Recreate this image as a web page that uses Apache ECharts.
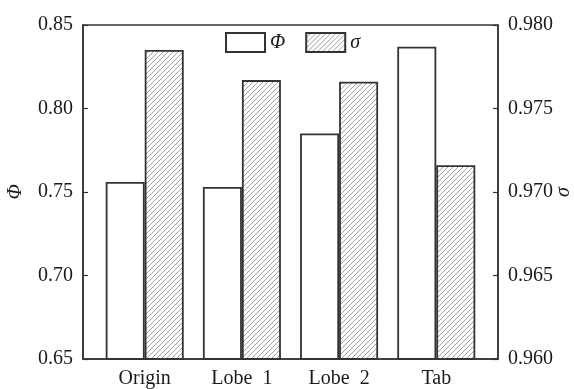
<!DOCTYPE html>
<html><head><meta charset="utf-8">
<script src="https://cdn.jsdelivr.net/npm/echarts@6/dist/echarts.min.js"></script>
<style>html,body{margin:0;padding:0;background:#fff}#c{width:574px;height:389px}</style>
</head><body><div id="c"></div>
<script>
const categories = ['Origin', 'Lobe  1', 'Lobe  2', 'Tab'];
const phiValues = [0.756, 0.753, 0.785, 0.837];
const sigmaValues = [0.9785, 0.9767, 0.9766, 0.9716];
const phiAxis = { min: 0.65, max: 0.85, interval: 0.05, digits: 2 };
const sigmaAxis = { min: 0.960, max: 0.980, interval: 0.005, digits: 3 };
const seriesNames = ['Φ', 'σ'];

function hatch() {
  const s = 5;
  const c = document.createElement('canvas');
  c.width = s; c.height = s;
  const g = c.getContext('2d');
  g.fillStyle = '#fff'; g.fillRect(0, 0, s, s);
  g.strokeStyle = '#a0a0a0'; g.lineWidth = 1;
  g.beginPath();
  g.moveTo(-1, s + 1); g.lineTo(s + 1, -1);
  g.moveTo(-1, 1); g.lineTo(1, -1);
  g.moveTo(s - 1, s + 1); g.lineTo(s + 1, s - 1);
  g.stroke();
  return c;
}

const font = 'Liberation Serif, Times New Roman, serif';
const txt = '#1a1a1a';
const lineCol = '#333';

function yAx(a, name, pos) {
  return {
    type: 'value', position: pos, min: a.min, max: a.max, interval: a.interval,
    axisLine: { show: true, onZero: false, lineStyle: { color: lineCol, width: 1.5 } },
    axisTick: { show: true, inside: true, length: 5, lineStyle: { color: lineCol, width: 1.2 } },
    axisLabel: { fontFamily: font, fontSize: 20, color: txt, margin: 10, formatter: v => v.toFixed(a.digits) },
    splitLine: { show: false },
    name: name, nameLocation: 'middle', nameRotate: 90, nameMoveOverlap: false,
    nameGap: pos === 'left' ? 57 : 56,
    nameTextStyle: { fontFamily: font, fontStyle: 'italic', fontSize: 20, color: txt }
  };
}

const chart = echarts.init(document.getElementById('c'), null, { renderer: 'canvas' });
chart.setOption({
  animation: false,
  backgroundColor: '#fff',
  grid: { left: 83, right: 76, top: 25, bottom: 30, containLabel: false, outerBoundsMode: 'none',
    show: true, borderColor: lineCol, borderWidth: 1.5, backgroundColor: 'transparent' },
  legend: {
    left: 225, top: 32, padding: 0, itemWidth: 39, itemHeight: 19, itemGap: 20, icon: 'rect',
    textStyle: { fontFamily: font, fontStyle: 'italic', fontSize: 20, color: txt },
    data: seriesNames
  },
  xAxis: {
    type: 'value', min: -0.635, max: 3.635,
    axisLine: { show: true, onZero: false, lineStyle: { color: lineCol, width: 1.5 } },
    axisTick: { show: false },
    splitLine: { show: false },
    axisLabel: { customValues: [0, 1, 2, 3], fontFamily: font, fontSize: 20, color: txt, margin: 10,
      formatter: v => categories[Math.round(v)] }
  },
  yAxis: [yAx(phiAxis, 'Φ', 'left'), yAx(sigmaAxis, 'σ', 'right')],
  series: [
    { name: seriesNames[0], type: 'bar', yAxisIndex: 0, barWidth: 39, barGap: '0%',
      data: phiValues.map((v, i) => [i, v]),
      itemStyle: { color: '#fff', borderColor: lineCol, borderWidth: 1.8 } },
    { name: seriesNames[1], type: 'bar', yAxisIndex: 1, barWidth: 39, barGap: '0%',
      data: sigmaValues.map((v, i) => [i, v]),
      itemStyle: { color: { image: hatch(), repeat: 'repeat' }, borderColor: lineCol, borderWidth: 1.8 } }
  ]
});
</script>
</body></html>
